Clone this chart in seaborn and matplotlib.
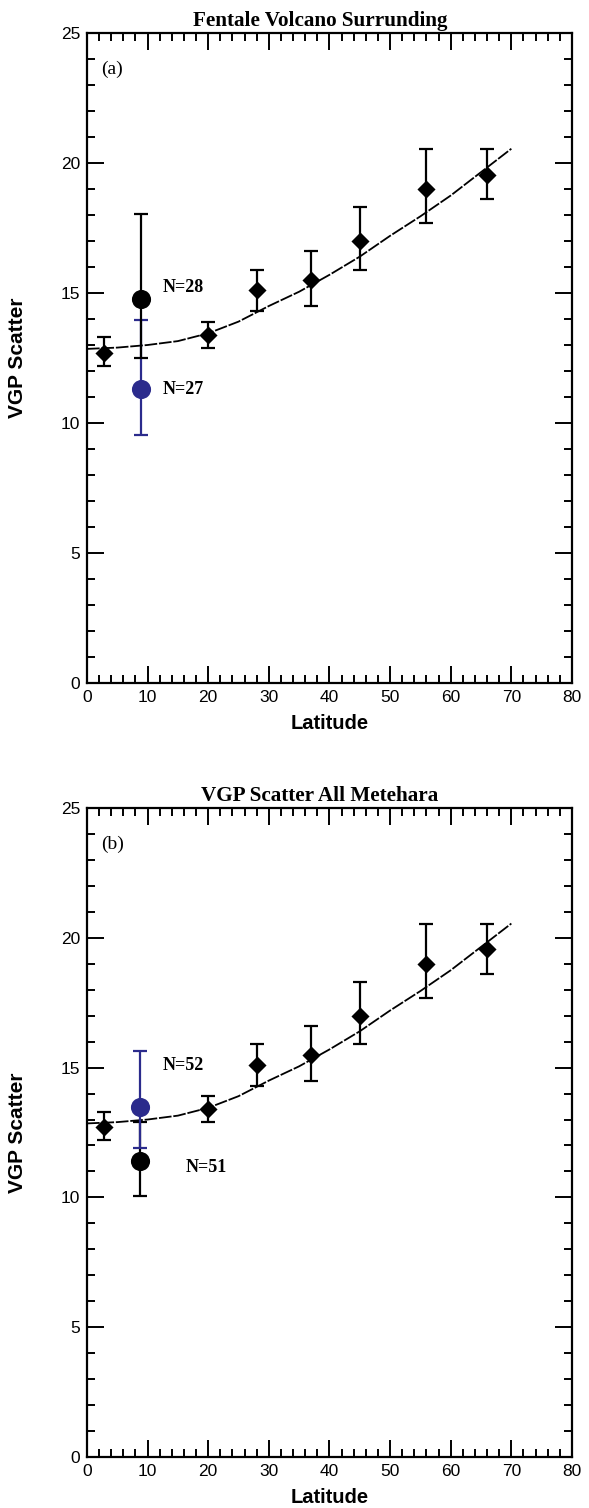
import numpy as np
import matplotlib
matplotlib.use("Agg")
import matplotlib.pyplot as plt
from matplotlib.ticker import MultipleLocator
import seaborn as sns

# Model curve (VGP scatter vs latitude)
MODEL_LAT = [0, 5, 10, 15, 20, 25, 30, 35, 40, 45, 50, 55, 60, 65, 70]
MODEL_S   = [12.85, 12.9, 13.0, 13.15, 13.45, 13.9, 14.5, 15.05, 15.7, 16.4,
             17.2, 17.95, 18.75, 19.65, 20.55]

# Reference data (same in both panels)
REF_LAT  = [2.8, 20.0, 28.0, 37.0, 45.0, 56.0, 66.0]
REF_S    = [12.7, 13.4, 15.1, 15.5, 17.0, 19.0, 19.55]
REF_LOW  = [12.2, 12.9, 14.3, 14.5, 15.9, 17.7, 18.6]
REF_HIGH = [13.3, 13.9, 15.9, 16.6, 18.3, 20.55, 20.55]

# Study sites: (lat, value, low, high, label)
PANEL_A_BLACK = (8.85, 14.77, 12.5, 18.05, "N=28")
PANEL_A_BLUE  = (8.85, 11.3, 9.55, 13.95, "N=27")
PANEL_B_BLACK = (8.8, 11.4, 10.05, 12.9, "N=51")
PANEL_B_BLUE  = (8.8, 13.5, 11.9, 15.65, "N=52")

TITLES = ["Fentale Volcano Surrunding", "VGP Scatter All Metehara"]
TAGS   = ["(a)", "(b)"]

BLUE = "#2b2b8c"
SERIF = ["Liberation Serif", "DejaVu Serif"]

sns.set_theme(style="ticks")
plt.rcParams["font.family"] = ["Liberation Sans", "DejaVu Sans"]
plt.rcParams["text.color"] = "black"
plt.rcParams["axes.labelcolor"] = "black"
plt.rcParams["axes.titlecolor"] = "black"

fig = plt.figure(figsize=(5.89, 15.08), dpi=100)
ax_a = fig.add_axes([0.1477, 0.5471, 0.8234, 0.4310])
ax_b = fig.add_axes([0.1477, 0.0338, 0.8234, 0.4304])


def draw_site(ax, site, color, ms):
    x, y, lo, hi, _ = site
    ax.errorbar([x], [y], yerr=[[y - lo], [hi - y]], fmt="none",
                ecolor=color, elinewidth=1.6, capsize=5, capthick=1.6, zorder=4)
    sns.scatterplot(x=[x], y=[y], ax=ax, color=color, marker="o", s=ms,
                    edgecolor=color, linewidth=0, zorder=5)


def draw_panel(ax, title, tag, first, second, labels_pos):
    sns.lineplot(x=MODEL_LAT, y=MODEL_S, ax=ax, color="black", lw=1.3,
                 dashes=False, zorder=2)
    ax.lines[-1].set_dashes([7, 1])
    ref_y = np.array(REF_S)
    ax.errorbar(REF_LAT, REF_S,
                yerr=[ref_y - np.array(REF_LOW), np.array(REF_HIGH) - ref_y],
                fmt="none", ecolor="black", elinewidth=1.6, capsize=5,
                capthick=1.6, zorder=3)
    sns.scatterplot(x=REF_LAT, y=REF_S, ax=ax, color="black", marker="D",
                    s=85, linewidth=0, zorder=3.5)
    draw_site(ax, first[0], first[1], 190)
    draw_site(ax, second[0], second[1], 190)

    for site, (lx, ly) in zip([first[0], second[0]], labels_pos):
        ax.text(lx, ly, site[4], fontsize=13, fontweight="bold",
                family=SERIF, ha="left", va="center", color="black")

    ax.text(2.4, 23.6, tag, fontsize=14, family=SERIF,
            ha="left", va="center", color="black")

    ax.set_xlim(0, 80)
    ax.set_ylim(0, 25)
    ax.xaxis.set_major_locator(MultipleLocator(10))
    ax.xaxis.set_minor_locator(MultipleLocator(2))
    ax.yaxis.set_major_locator(MultipleLocator(5))
    ax.yaxis.set_minor_locator(MultipleLocator(1))
    ax.tick_params(which="both", direction="in", top=True, right=True,
                   width=1.4, colors="black", labelsize=12.5)
    ax.tick_params(which="major", length=12)
    ax.tick_params(which="minor", length=6)
    ax.tick_params(axis="y", pad=5)
    ax.tick_params(axis="x", pad=5)
    for sp in ax.spines.values():
        sp.set_visible(True)
        sp.set_linewidth(1.6)
        sp.set_color("black")

    ax.set_xlabel("Latitude", fontsize=14.5, fontweight="bold", color="black")
    ax.set_ylabel("VGP Scatter", fontsize=15, fontweight="bold", color="black")
    ax.xaxis.set_label_coords(0.5, -0.048)
    ax.yaxis.set_label_coords(-0.124, 0.5)
    ax.set_title(title, fontsize=15.2, fontweight="bold", family=SERIF,
                 color="black", pad=5, x=0.48)
    ax.set_facecolor("white")


draw_panel(ax_a, TITLES[0], TAGS[0],
           (PANEL_A_BLUE, BLUE), (PANEL_A_BLACK, "black"),
           [(12.4, 11.3), (12.4, 15.2)])
draw_panel(ax_b, TITLES[1], TAGS[1],
           (PANEL_B_BLACK, "black"), (PANEL_B_BLUE, BLUE),
           [(16.2, 11.15), (12.5, 15.1)])

fig.savefig("out.png", dpi=100, facecolor="white")
